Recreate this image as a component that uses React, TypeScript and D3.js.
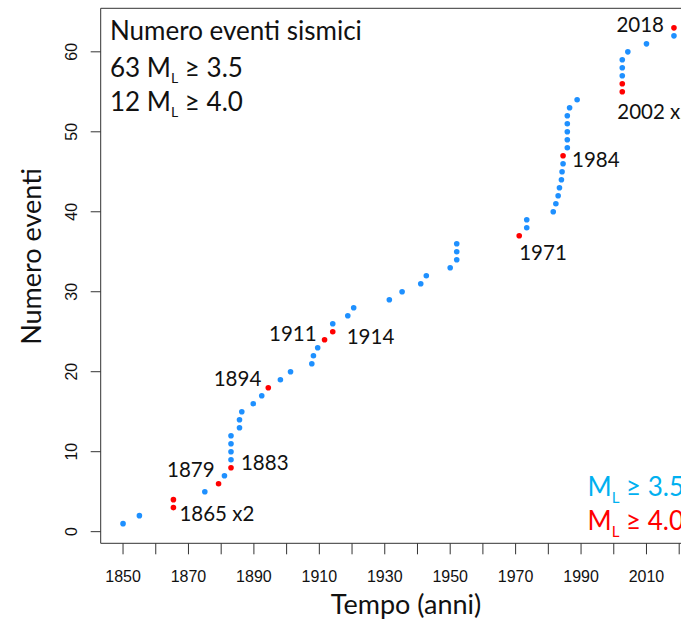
import React, { useEffect } from "react";
import * as d3 from "d3";

// Cumulative seismic events: year of each event (ordered), count = index + 1
const eventYears = [
  1850, 1855, 1865.4, 1865.4, 1875, 1879.2, 1881, 1883, 1883, 1883, 1883, 1883,
  1885.6, 1885.6, 1886.3, 1889.8, 1892.4, 1894.4, 1898.1, 1901.2, 1907.7, 1908.2,
  1909.5, 1911.6, 1914.1, 1914.1, 1918.7, 1920.5, 1931.4, 1935.3, 1941, 1942.7,
  1950, 1952, 1952, 1952, 1971.1, 1973.4, 1973.4, 1981.5, 1982.3, 1983, 1983.4,
  1984, 1984.2, 1984.5, 1984.5, 1985.8, 1985.8, 1985.8, 1985.8, 1985.8, 1986.5,
  1988.8, 2002.6, 2002.6, 2002.6, 2002.6, 2002.6, 2004.3, 2010, 2018.4, 2018.4,
];
// counts (1-based) of events with ML >= 4.0
const strongCounts = [3, 4, 6, 8, 18, 24, 25, 37, 47, 55, 56, 63];

const annotationTexts = ["1865 x2", "1879", "1883", "1894", "1911", "1914", "1971", "1984", "2002 x2", "2018"];
const annotationCounts = [3, 6, 8, 18, 24, 25, 37, 47, 55, 63];

const xTickMajor = [1850, 1870, 1890, 1910, 1930, 1950, 1970, 1990, 2010];
const xTickAll = d3.range(1850, 2021, 10);
const yTicks = [0, 10, 20, 30, 40, 50, 60];

const titleLines = ["Numero eventi sismici"];
const summaryCounts = [63, 12];
const summaryThresholds = ["3.5", "4.0"];
const legendThresholds = ["3.5", "4.0"];

// layout offsets for annotations (px): dx, dy, anchor
const annotLayout: [number, number, string][] = [
  [6, 13, "start"],
  [-4, -7, "end"],
  [10, 2, "start"],
  [-7, -2, "end"],
  [-8, 1, "end"],
  [14, 12, "start"],
  [0, 24, "start"],
  [9, 11, "start"],
  [-5, 27, "start"],
  [-10, 4, "end"],
];

const W = 681;
const H = 622;
const BLUE = "#1E90FF";
const RED = "#FF0000";
const LEGEND_BLUE = "#00B0F0";
const SANS = "Lato, 'Open Sans', sans-serif";
const AXIS_FONT = "'Liberation Sans', Arial, sans-serif";

export default function App() {
  useEffect(() => {
    document.body.style.margin = "0";
  }, []);

  const points = eventYears.map((yr, i) => ({ year: yr, count: i + 1, strong: strongCounts.includes(i + 1) }));

  const xExt = d3.extent(eventYears) as [number, number];
  const xPad = (xExt[1] - xExt[0]) * 0.04;
  const x = d3.scaleLinear().domain([xExt[0] - xPad, xExt[1] + xPad]).range([101, 696]);
  const yPad = (63 - 1) * 0.04;
  const y = d3.scaleLinear().domain([1 - yPad, 63 + yPad]).range([543.5, 8]);

  const left = 100.7;
  const top = 8.3;
  const bottom = 543.3;
  const right = 696;

  const annFont = 20.5;

  return (
    <svg width={W} height={H} style={{ display: "block", background: "#fff" }}>
      {/* plot box */}
      <path d={`M${left},${top}H${right}V${bottom}H${left}Z`} fill="none" stroke="#333" strokeWidth={1} />

      {/* y axis ticks */}
      {yTicks.map((t) => (
        <g key={"y" + t}>
          <line x1={left - 10} x2={left} y1={y(t)} y2={y(t)} stroke="#333" />
          <text
            transform={`translate(${71.5},${y(t)}) rotate(-90)`}
            textAnchor="middle"
            dominantBaseline="central"
            fontFamily={AXIS_FONT}
            fontSize={16}
            fill="#111"
          >
            {t}
          </text>
        </g>
      ))}

      {/* x axis ticks */}
      {xTickAll.map((t) => (
        <line key={"xt" + t} x1={x(t)} x2={x(t)} y1={bottom} y2={bottom + 11} stroke="#333" />
      ))}
      {xTickMajor.map((t) => (
        <text key={"xl" + t} x={x(t)} y={581.5} textAnchor="middle" fontFamily={AXIS_FONT} fontSize={16} fill="#111">
          {t}
        </text>
      ))}

      {/* axis titles */}
      <text x={406} y={614} textAnchor="middle" fontFamily={SANS} fontSize={27} fill="#111">
        Tempo (anni)
      </text>
      <text
        transform={`translate(${41},${256.5}) rotate(-90)`}
        textAnchor="middle"
        fontFamily={SANS}
        fontSize={27}
        fill="#111"
      >
        Numero eventi
      </text>

      {/* points */}
      {points.map((p) => (
        <circle key={"p" + p.count} cx={x(p.year)} cy={y(p.count)} r={2.8} fill={p.strong ? RED : BLUE} />
      ))}

      {/* annotations */}
      {annotationTexts.map((t, i) => {
        const c = annotationCounts[i];
        const px = x(eventYears[c - 1]);
        const py = y(c);
        const [dx, dy, anchor] = annotLayout[i];
        return (
          <text key={"a" + i} x={px + dx} y={py + dy} textAnchor={anchor as any} fontFamily={SANS} fontSize={annFont} fill="#111">
            {t}
          </text>
        );
      })}

      {/* summary block */}
      <text x={110} y={39.5} fontFamily={SANS} fontSize={26} fill="#111">
        {titleLines[0]}
      </text>
      {summaryCounts.map((n, i) => (
        <text key={"s" + i} x={110} y={77 + i * 34} fontFamily={SANS} fontSize={26} fill="#111">
          <tspan>{n} M</tspan>
          <tspan fontSize={14} dy={6}>L</tspan>
          <tspan dy={-6}>{" ≥ " + summaryThresholds[i]}</tspan>
        </text>
      ))}

      {/* legend */}
      {legendThresholds.map((t, i) => (
        <text key={"l" + i} x={587.5} y={496 + i * 34} fontFamily={SANS} fontSize={26} fill={i === 0 ? LEGEND_BLUE : RED}>
          <tspan>M</tspan>
          <tspan fontSize={15} dy={7}>L</tspan>
          <tspan dy={-7}>{" ≥ " + t}</tspan>
        </text>
      ))}
    </svg>
  );
}
